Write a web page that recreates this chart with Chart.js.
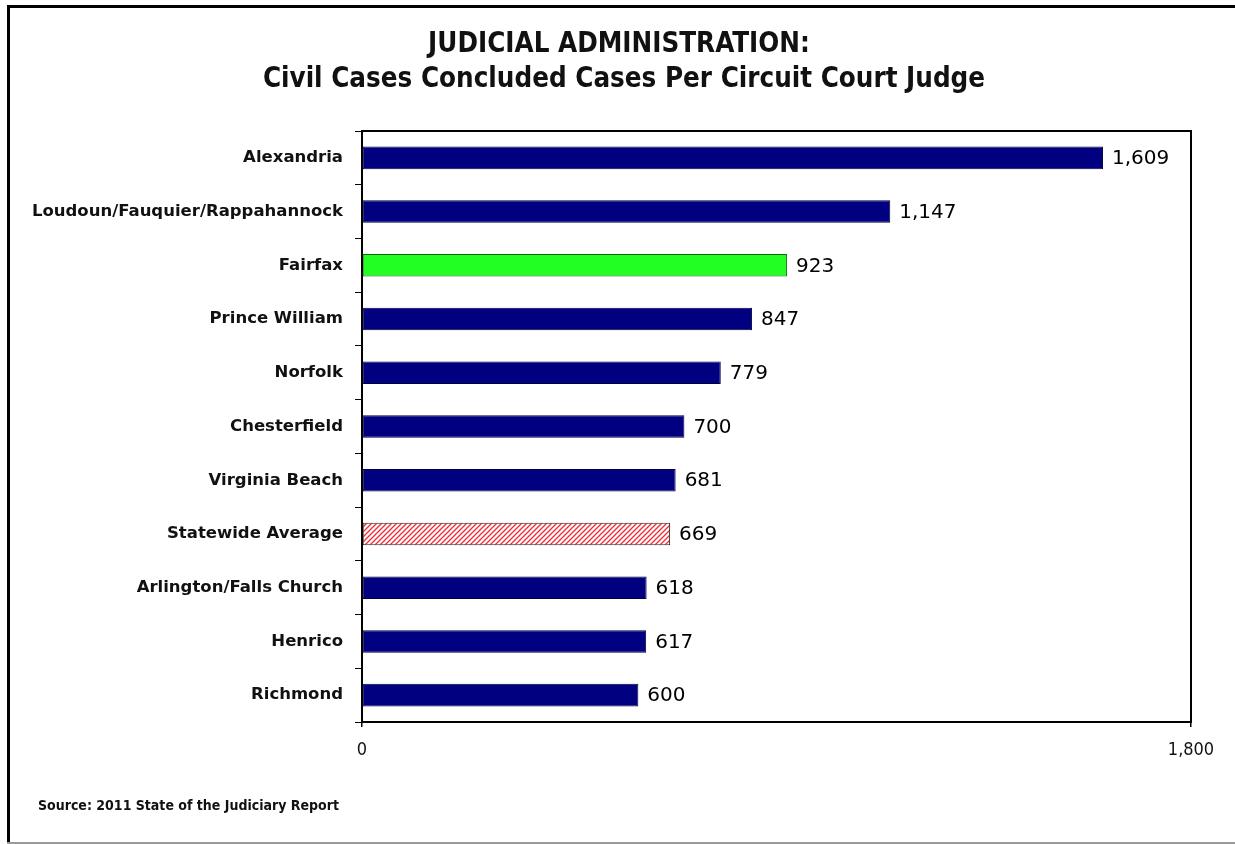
<!DOCTYPE html>
<html>
<head>
<meta charset="utf-8">
<script src="https://cdn.jsdelivr.net/npm/chart.js@4.4.1/dist/chart.umd.min.js"></script>
<style>
  html, body { margin: 0; padding: 0; background: #fff; }
  #wrap { width: 1235px; height: 844px; position: relative; }
</style>
</head>
<body>
<div id="wrap"><canvas id="judgesChart" width="1235" height="844"></canvas></div>
<script>
// Data for the graph
const courts = ['Alexandria', 'Loudoun/Fauquier/Rappahannock', 'Fairfax', 'Prince William', 'Norfolk',
    'Chesterfield', 'Virginia Beach', 'Statewide Average', 'Arlington/Falls Church', 'Henrico', 'Richmond'];
const casesPerJudge = [1609, 1147, 923, 847, 779, 700, 681, 669, 618, 617, 600];
const axisTicks = [0, 1800];

const titleLines = ['JUDICIAL ADMINISTRATION:', 'Civil Cases Concluded Cases Per Circuit Court Judge'];
const sourceNote = 'Source: 2011 State of the Judiciary Report';

// hatched fill for the statewide average bar
function hatchPattern() {
    const c = document.createElement('canvas');
    c.width = 5; c.height = 5;
    const g = c.getContext('2d');
    g.fillStyle = '#fff';
    g.fillRect(0, 0, 5, 5);
    g.strokeStyle = '#ee2a35';
    g.lineWidth = 1.3;
    g.beginPath();
    g.moveTo(0, 5); g.lineTo(5, 0);
    g.moveTo(-2.5, 2.5); g.lineTo(2.5, -2.5);
    g.moveTo(2.5, 7.5); g.lineTo(7.5, 2.5);
    g.stroke();
    return g.createPattern(c, 'repeat');
}

const fills = courts.map(name => {
    if (name === 'Fairfax') return '#22ff22';
    if (name === 'Statewide Average') return hatchPattern();
    return '#000080';
});
const borders = courts.map(name => name === 'Fairfax' ? '#116611' : (name === 'Statewide Average' ? '#222' : '#000040'));

// frame, title, plot box, value labels and source note
const decorations = {
    id: 'decorations',
    beforeDraw(chart) {
        const ctx = chart.ctx;
        ctx.save();
        ctx.fillStyle = '#000';
        ctx.fillRect(7, 5, 3, 839);
        ctx.fillRect(7, 5, 1228, 3);
        ctx.fillStyle = '#999';
        ctx.fillRect(7, 842, 1228, 2);
        ctx.fillStyle = '#111';
        ctx.font = 'bold 27.5px "DejaVu Sans Condensed"';
        ctx.textAlign = 'center';
        ctx.textBaseline = 'middle';
        ctx.fillText(titleLines[0], 619, 45);
        ctx.fillText(titleLines[1], 624, 80);
        ctx.restore();
    },
    afterDatasetsDraw(chart) {
        const ctx = chart.ctx;
        const meta = chart.getDatasetMeta(0);
        ctx.save();
        ctx.fillStyle = '#000';
        ctx.font = '20px "DejaVu Sans"';
        ctx.textBaseline = 'middle';
        meta.data.forEach((bar, i) => {
            ctx.fillText(casesPerJudge[i].toLocaleString('en-US'), bar.x + 9, bar.y + 1);
        });
        ctx.restore();
    },
    afterDraw(chart) {
        const ctx = chart.ctx;
        const a = chart.chartArea;
        ctx.save();
        ctx.strokeStyle = '#000';
        ctx.lineWidth = 2;
        ctx.strokeRect(a.left, a.top, a.right - a.left, a.bottom - a.top);
        ctx.fillStyle = '#111';
        ctx.font = 'bold 14px "DejaVu Sans Condensed"';
        ctx.textBaseline = 'middle';
        ctx.fillText(sourceNote, 38, 806);
        ctx.restore();
    }
};

window.onload = function() {
    new Chart(document.getElementById('judgesChart'), {
        type: 'bar',
        data: {
            labels: courts,
            datasets: [{
                data: casesPerJudge,
                backgroundColor: fills,
                borderColor: borders,
                borderWidth: 1,
                borderSkipped: false,
                barPercentage: 0.42,
                categoryPercentage: 1
            }]
        },
        options: {
            indexAxis: 'y',
            responsive: false,
            animation: false,
            layout: { padding: { left: 0, right: 44, top: 131, bottom: 0 } },
            plugins: {
                legend: { display: false },
                tooltip: { enabled: false },
                title: { display: false }
            },
            scales: {
                x: {
                    min: axisTicks[0],
                    max: axisTicks[1],
                    afterBuildTicks(scale) {
                        scale.ticks = axisTicks.map(v => ({ value: v }));
                    },
                    afterFit(scale) { scale.height = 122; },
                    grid: { drawOnChartArea: false, drawTicks: true, tickLength: 5, color: '#000', lineWidth: 1.5 },
                    border: { display: true, color: '#000', width: 2 },
                    ticks: {
                        color: '#111',
                        padding: 13,
                        maxRotation: 0,
                        font: { family: '"DejaVu Sans Condensed"', size: 18 },
                        callback: v => v.toLocaleString('en-US')
                    }
                },
                y: {
                    afterFit(scale) { scale.width = 362; },
                    grid: { drawOnChartArea: false, drawTicks: true, tickLength: 7, color: '#000', lineWidth: 1 },
                    border: { display: true, color: '#000', width: 2 },
                    ticks: {
                        color: '#111',
                        padding: 12,
                        font: { family: '"DejaVu Sans"', size: 16.5, weight: 'bold' }
                    }
                }
            }
        },
        plugins: [decorations]
    });
};
</script>
</body>
</html>
